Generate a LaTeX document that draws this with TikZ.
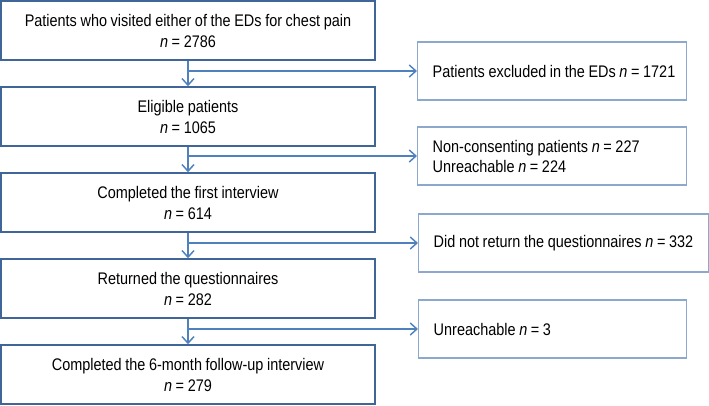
\documentclass[tikz,border=0pt]{standalone}
\usepackage{fontspec}
\setmainfont{Liberation Sans}[FakeStretch=0.86,WordSpace=0.9]
\usetikzlibrary{arrows.meta,calc}
\definecolor{FlowClr}{rgb}{0.31,0.51,0.74}
\definecolor{StepClr}{rgb}{0.25,0.40,0.60}
\definecolor{LossClr}{rgb}{0.55,0.66,0.80}

\begin{document}
\begin{tikzpicture}[x=0.75pt,y=-0.75pt,
  stepbox/.style={draw=StepClr,line width=1.1pt,minimum width=280.5pt,minimum height=44.25pt,
    align=center,inner sep=0pt,font=\fontsize{12.6}{15.75}\selectfont},
  lossbox/.style={draw=LossClr,line width=1.1pt,anchor=west,minimum height=43.5pt,
    inner sep=0pt,align=flush left,font=\fontsize{12.6}{15}\selectfont,
    execute at begin node={\leftskip=11.25pt}},
  flow/.style={draw=FlowClr,line width=1.1pt,-{Straight Barb[length=5pt,width=9pt]}}]
\useasboundingbox (0,0) rectangle (709,405);

\node[stepbox] (visited) at (188,30.5) {Patients who visited either of the EDs for chest pain\\\textit{n} = 2786};
\node[stepbox] (eligible) at (188,116.5) {Eligible patients\\\textit{n} = 1065};
\node[stepbox] (first) at (188,202.5) {Completed the first interview\\\textit{n} = 614};
\node[stepbox] (returned) at (188,288.5) {Returned the questionnaires\\\textit{n} = 282};
\node[stepbox] (followup) at (188,374.5) {Completed the 6-month follow-up interview\\\textit{n} = 279};

\node[lossbox,text width=201.75pt] (excluded) at (417,71) {Patients excluded in the EDs \textit{n} = 1721};
\node[lossbox,text width=201.75pt] (refused) at (417,156) {Non-consenting patients \textit{n} = 227\\Unreachable \textit{n} = 224};
\node[lossbox,text width=217.5pt] (noreturn) at (418,243) {Did not return the questionnaires \textit{n} = 332};
\node[lossbox,text width=201pt] (unreach) at (418,329) {Unreachable \textit{n} = 3};

\draw[flow] (visited) -- (eligible);
\draw[flow] (eligible) -- (first);
\draw[flow] (first) -- (returned);
\draw[flow] (returned) -- (followup);

\draw[flow] (visited.south |- excluded.west) -- (excluded.west);
\draw[flow] (eligible.south |- refused.west) -- (refused.west);
\draw[flow] (first.south |- noreturn.west) -- (noreturn.west);
\draw[flow] (returned.south |- unreach.west) -- (unreach.west);

\end{tikzpicture}
\end{document}
